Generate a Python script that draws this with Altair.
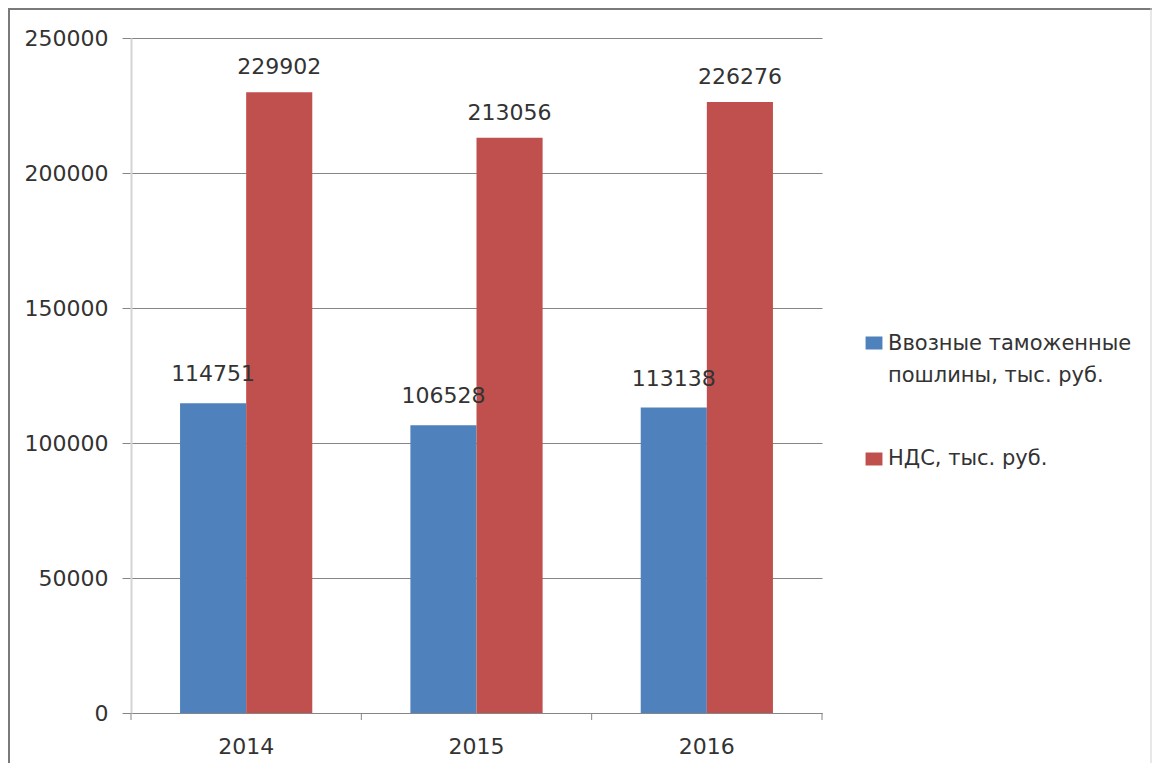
import altair as alt
import pandas as pd

years = ["2014", "2015", "2016"]
duties = [114751, 106528, 113138]
vat = [229902, 213056, 226276]
series_names = ["Ввозные таможенные пошлины, тыс. руб.", "НДС, тыс. руб."]
legend_lines = [["Ввозные таможенные", "пошлины, тыс. руб."], ["НДС, тыс. руб."]]
colors = ["#4F81BD", "#C0504D"]
y_ticks = [0, 50000, 100000, 150000, 200000, 250000]

rows = []
for i, yr in enumerate(years):
    rows.append({"year": yr, "series": series_names[0], "value": duties[i]})
    rows.append({"year": yr, "series": series_names[1], "value": vat[i]})
df = pd.DataFrame(rows)
df_years = pd.DataFrame({"year": years})

W, H = 691, 675
PAD_L, PAD_T, PAD_R, PAD_B = 123, 30, 330, 50
FONT = "DejaVu Sans"
TXT = "#333333"
GRID = "#868686"

color = alt.Color("series:N", scale=alt.Scale(domain=series_names, range=colors), legend=None)
x_enc = alt.X(
    "year:N",
    sort=years,
    scale=alt.Scale(paddingInner=0, paddingOuter=0),
    axis=alt.Axis(
        title=None, labelAngle=0, ticks=False, domainColor=GRID, domainWidth=1,
        labelFont=FONT, labelFontSize=22, labelColor=TXT, labelPadding=23,
    ),
)
y_enc = alt.Y(
    "value:Q",
    scale=alt.Scale(domain=[0, 250000], nice=False),
    axis=alt.Axis(
        title=None, values=y_ticks, format="d", grid=True, gridColor=GRID, gridWidth=1,
        tickColor=GRID, tickSize=9, domainColor="#d4d4d4", domainWidth=2,
        labelFont=FONT, labelFontSize=22, labelColor=TXT, labelPadding=14,
    ),
)
x_off = alt.XOffset("series:N", sort=series_names,
                    scale=alt.Scale(paddingOuter=0.742, paddingInner=0))

base = alt.Chart(df)
bars = base.mark_bar().encode(x=x_enc, y=y_enc, xOffset=x_off, color=color)

labels = []
for name, dy in zip(series_names, [-29, -25]):
    labels.append(
        base.transform_filter(alt.datum.series == name)
        .mark_text(font=FONT, fontSize=22, color=TXT, baseline="middle", dy=dy)
        .encode(x=alt.X("year:N", sort=years), y="value:Q", xOffset=x_off, text="value:Q")
    )

# x-axis tick marks at band boundaries
xticks = alt.Chart(df_years).mark_rule(color=GRID, strokeWidth=1).encode(
    x=alt.X("year:N", sort=years, bandPosition=0),
    y=alt.value(H), y2=alt.value(H + 7),
)
last_tick = alt.Chart(df_years.head(1)).mark_rule(color=GRID, strokeWidth=1).encode(
    x=alt.value(W), y=alt.value(H), y2=alt.value(H + 7)
)

# legend drawn by hand
leg_sym_y = [305, 421]
leg_txt_y = [312, 427]
legend_layers = []
for i, name in enumerate(series_names):
    d = pd.DataFrame({"series": [name]})
    legend_layers.append(
        alt.Chart(d).mark_point(shape="M-1.3,-1L1.3,-1L1.3,1L-1.3,1Z", filled=True,
                                size=169, opacity=1, strokeWidth=0)
        .encode(x=alt.value(743), y=alt.value(leg_sym_y[i]), color=color)
    )
    legend_layers.append(
        alt.Chart(d).mark_text(text=legend_lines[i], align="left", baseline="alphabetic",
                               font=FONT, fontSize=21, color=TXT, lineHeight=32)
        .encode(x=alt.value(757), y=alt.value(leg_txt_y[i]))
    )

# outer frame (top/left dark, right light)
frame_d = pd.DataFrame({"k": [0]})
frame_top = alt.Chart(frame_d).mark_rule(color="#7a7a7a", strokeWidth=2).encode(
    x=alt.value(-PAD_L), x2=alt.value(W + PAD_R), y=alt.value(-PAD_T + 1)
)
frame_left = alt.Chart(frame_d).mark_rule(color="#7a7a7a", strokeWidth=2).encode(
    x=alt.value(-PAD_L + 1), y=alt.value(-PAD_T), y2=alt.value(H + PAD_B)
)
frame_right = alt.Chart(frame_d).mark_rule(color="#d0d0d0", strokeWidth=1).encode(
    x=alt.value(W + PAD_R - 1), y=alt.value(-PAD_T), y2=alt.value(H + PAD_B)
)

chart = alt.layer(
    bars, *labels, xticks, last_tick, *legend_layers, frame_top, frame_left, frame_right
).properties(
    width=W, height=H,
    autosize=alt.AutoSizeParams(type="none"),
    padding={"left": PAD_L, "top": PAD_T, "right": PAD_R, "bottom": PAD_B},
).configure_view(stroke=None)

chart.save("out.html", embed_options={"renderer": "svg", "actions": False})
